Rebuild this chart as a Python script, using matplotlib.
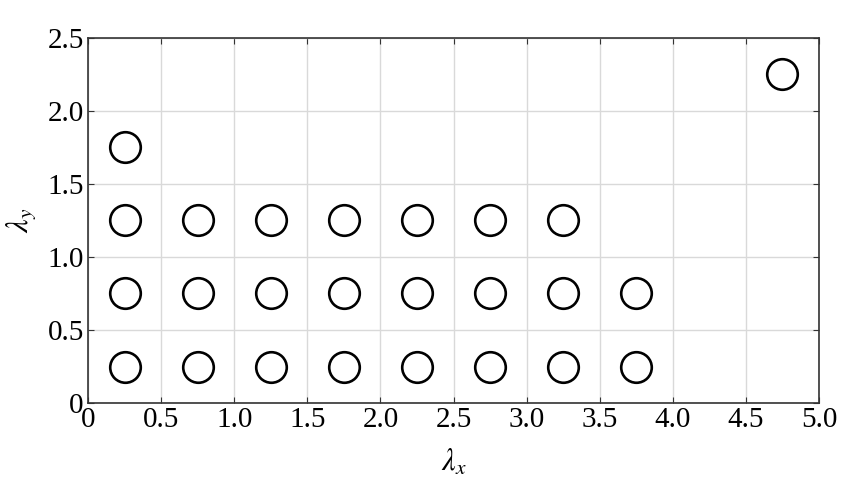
import numpy as np
from matplotlib import pyplot as plt

# circle centres (lambda_x, lambda_y)
lam_x = [0.25, 0.75, 1.25, 1.75, 2.25, 2.75, 3.25, 3.75,
         0.25, 0.75, 1.25, 1.75, 2.25, 2.75, 3.25, 3.75,
         0.25, 0.75, 1.25, 1.75, 2.25, 2.75, 3.25,
         0.25, 4.75]
lam_y = [0.25] * 8 + [0.75] * 8 + [1.25] * 7 + [1.75, 2.25]

xticks = [0, 0.5, 1.0, 1.5, 2.0, 2.5, 3.0, 3.5, 4.0, 4.5, 5.0]
xtick_labels = ['0', '0.5', '1.0', '1.5', '2.0', '2.5', '3.0', '3.5', '4.0', '4.5', '5.0']
yticks = [0, 0.5, 1.0, 1.5, 2.0, 2.5]
ytick_labels = ['0', '0.5', '1.0', '1.5', '2.0', '2.5']

plt.rcParams['font.family'] = ['Liberation Serif', 'DejaVu Serif']
plt.rcParams['mathtext.fontset'] = 'stix'

fig = plt.figure(figsize=(8.57, 4.88), dpi=100)
ax = fig.add_axes([0.1027, 0.174, 0.853, 0.749])

ax.plot(lam_x, lam_y, 'o', markersize=22, markerfacecolor='none',
        markeredgecolor='black', markeredgewidth=1.9, linestyle='none')

ax.set_xlim(0, 5)
ax.set_ylim(0, 2.5)
ax.set_xticks(xticks)
ax.set_xticklabels(xtick_labels)
ax.set_yticks(yticks)
ax.set_yticklabels(ytick_labels)
ax.grid(True, color='#d9d9d9', linewidth=1.0)
ax.set_axisbelow(True)
ax.tick_params(direction='in', top=True, right=True, length=4,
               labelsize=21, pad=3, color='#333333')
for s in ax.spines.values():
    s.set_color('#333333')
    s.set_linewidth(1.2)

ax.set_xlabel(r'$\lambda_x$', fontsize=22, labelpad=10)
ax.set_ylabel(r'$\lambda_y$', fontsize=22, labelpad=6)

fig.savefig('out.png', dpi=100)
